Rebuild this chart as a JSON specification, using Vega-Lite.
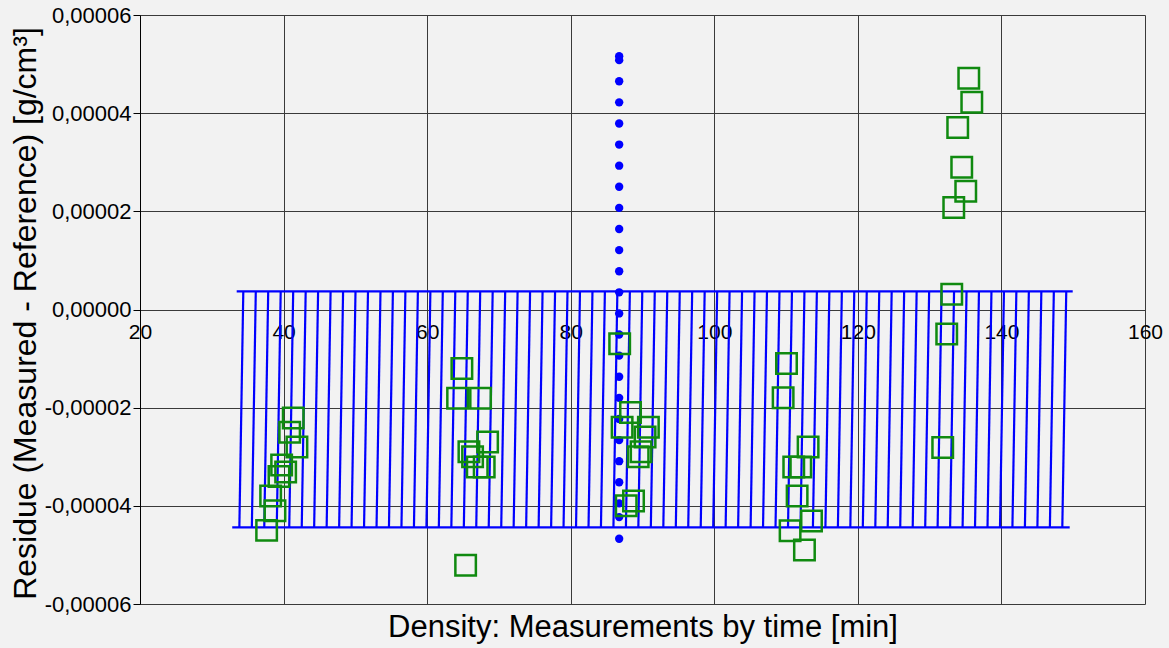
{
  "$schema": "https://vega.github.io/schema/vega-lite/v6.json",
  "autosize": {"type": "none"},
  "width": 1005,
  "height": 589,
  "padding": {"left": 140, "top": 15, "right": 24, "bottom": 44},
  "background": "#f2f2f2",
  "config": {
    "view": {"stroke": null, "fill": "#f2f2f2"},
    "font": "Liberation Sans",
    "locale": {
      "number": {"decimal": ",", "thousands": ".", "grouping": [3], "currency": ["", " €"], "minus": "-"}
    },
    "axis": {
      "labelFont": "Liberation Sans",
      "titleFont": "Liberation Sans",
      "labelColor": "#000000",
      "titleColor": "#000000",
      "gridColor": "#3a3a3a",
      "gridWidth": 1,
      "gridOpacity": 1
    }
  },
  "datasets": {
    "band_limits": [
      {"from": 33.47, "to": 149.93, "level": 0.0000037},
      {"from": 32.85, "to": 149.51, "level": -0.0000444}
    ],
    "band_steps": [
      {"t": 34.39, "t0": 33.84, "hi": 0.0000037, "lo": -0.0000444},
      {"t": 36.13, "t0": 35.58, "hi": 0.0000037, "lo": -0.0000444},
      {"t": 37.86, "t0": 37.31, "hi": 0.0000037, "lo": -0.0000444},
      {"t": 39.60, "t0": 39.05, "hi": 0.0000037, "lo": -0.0000444},
      {"t": 41.34, "t0": 40.79, "hi": 0.0000037, "lo": -0.0000444},
      {"t": 43.08, "t0": 42.53, "hi": 0.0000037, "lo": -0.0000444},
      {"t": 44.81, "t0": 44.26, "hi": 0.0000037, "lo": -0.0000444},
      {"t": 46.55, "t0": 46.00, "hi": 0.0000037, "lo": -0.0000444},
      {"t": 48.29, "t0": 47.74, "hi": 0.0000037, "lo": -0.0000444},
      {"t": 50.02, "t0": 49.47, "hi": 0.0000037, "lo": -0.0000444},
      {"t": 51.76, "t0": 51.21, "hi": 0.0000037, "lo": -0.0000444},
      {"t": 53.50, "t0": 52.95, "hi": 0.0000037, "lo": -0.0000444},
      {"t": 55.23, "t0": 54.68, "hi": 0.0000037, "lo": -0.0000444},
      {"t": 56.97, "t0": 56.42, "hi": 0.0000037, "lo": -0.0000444},
      {"t": 58.71, "t0": 58.16, "hi": 0.0000037, "lo": -0.0000444},
      {"t": 60.45, "t0": 59.90, "hi": 0.0000037, "lo": -0.0000444},
      {"t": 62.18, "t0": 61.63, "hi": 0.0000037, "lo": -0.0000444},
      {"t": 63.92, "t0": 63.37, "hi": 0.0000037, "lo": -0.0000444},
      {"t": 65.66, "t0": 65.11, "hi": 0.0000037, "lo": -0.0000444},
      {"t": 67.39, "t0": 66.84, "hi": 0.0000037, "lo": -0.0000444},
      {"t": 69.13, "t0": 68.58, "hi": 0.0000037, "lo": -0.0000444},
      {"t": 70.87, "t0": 70.32, "hi": 0.0000037, "lo": -0.0000444},
      {"t": 72.60, "t0": 72.05, "hi": 0.0000037, "lo": -0.0000444},
      {"t": 74.34, "t0": 73.79, "hi": 0.0000037, "lo": -0.0000444},
      {"t": 76.08, "t0": 75.53, "hi": 0.0000037, "lo": -0.0000444},
      {"t": 77.82, "t0": 77.27, "hi": 0.0000037, "lo": -0.0000444},
      {"t": 79.55, "t0": 79.00, "hi": 0.0000037, "lo": -0.0000444},
      {"t": 81.29, "t0": 80.74, "hi": 0.0000037, "lo": -0.0000444},
      {"t": 83.03, "t0": 82.48, "hi": 0.0000037, "lo": -0.0000444},
      {"t": 84.76, "t0": 84.21, "hi": 0.0000037, "lo": -0.0000444},
      {"t": 86.50, "t0": 85.95, "hi": 0.0000037, "lo": -0.0000444},
      {"t": 88.24, "t0": 87.69, "hi": 0.0000037, "lo": -0.0000444},
      {"t": 89.97, "t0": 89.42, "hi": 0.0000037, "lo": -0.0000444},
      {"t": 91.71, "t0": 91.16, "hi": 0.0000037, "lo": -0.0000444},
      {"t": 93.45, "t0": 92.90, "hi": 0.0000037, "lo": -0.0000444},
      {"t": 95.19, "t0": 94.64, "hi": 0.0000037, "lo": -0.0000444},
      {"t": 96.92, "t0": 96.37, "hi": 0.0000037, "lo": -0.0000444},
      {"t": 98.66, "t0": 98.11, "hi": 0.0000037, "lo": -0.0000444},
      {"t": 100.40, "t0": 99.85, "hi": 0.0000037, "lo": -0.0000444},
      {"t": 102.13, "t0": 101.58, "hi": 0.0000037, "lo": -0.0000444},
      {"t": 103.87, "t0": 103.32, "hi": 0.0000037, "lo": -0.0000444},
      {"t": 105.61, "t0": 105.06, "hi": 0.0000037, "lo": -0.0000444},
      {"t": 107.34, "t0": 106.79, "hi": 0.0000037, "lo": -0.0000444},
      {"t": 109.08, "t0": 108.53, "hi": 0.0000037, "lo": -0.0000444},
      {"t": 110.82, "t0": 110.27, "hi": 0.0000037, "lo": -0.0000444},
      {"t": 112.56, "t0": 112.01, "hi": 0.0000037, "lo": -0.0000444},
      {"t": 114.29, "t0": 113.74, "hi": 0.0000037, "lo": -0.0000444},
      {"t": 116.03, "t0": 115.48, "hi": 0.0000037, "lo": -0.0000444},
      {"t": 117.77, "t0": 117.22, "hi": 0.0000037, "lo": -0.0000444},
      {"t": 119.50, "t0": 118.95, "hi": 0.0000037, "lo": -0.0000444},
      {"t": 121.24, "t0": 120.69, "hi": 0.0000037, "lo": -0.0000444},
      {"t": 122.98, "t0": 122.43, "hi": 0.0000037, "lo": -0.0000444},
      {"t": 124.71, "t0": 124.16, "hi": 0.0000037, "lo": -0.0000444},
      {"t": 126.45, "t0": 125.90, "hi": 0.0000037, "lo": -0.0000444},
      {"t": 128.19, "t0": 127.64, "hi": 0.0000037, "lo": -0.0000444},
      {"t": 129.93, "t0": 129.38, "hi": 0.0000037, "lo": -0.0000444},
      {"t": 131.66, "t0": 131.11, "hi": 0.0000037, "lo": -0.0000444},
      {"t": 133.40, "t0": 132.85, "hi": 0.0000037, "lo": -0.0000444},
      {"t": 135.14, "t0": 134.59, "hi": 0.0000037, "lo": -0.0000444},
      {"t": 136.87, "t0": 136.32, "hi": 0.0000037, "lo": -0.0000444},
      {"t": 138.61, "t0": 138.06, "hi": 0.0000037, "lo": -0.0000444},
      {"t": 140.35, "t0": 139.80, "hi": 0.0000037, "lo": -0.0000444},
      {"t": 142.08, "t0": 141.53, "hi": 0.0000037, "lo": -0.0000444},
      {"t": 143.82, "t0": 143.27, "hi": 0.0000037, "lo": -0.0000444},
      {"t": 145.56, "t0": 145.01, "hi": 0.0000037, "lo": -0.0000444},
      {"t": 147.30, "t0": 146.75, "hi": 0.0000037, "lo": -0.0000444},
      {"t": 149.03, "t0": 148.48, "hi": 0.0000037, "lo": -0.0000444}
    ],
    "drift": [
      {"t": 86.75, "residue": 0.0000516},
      {"t": 86.75, "residue": 0.0000508},
      {"t": 86.75, "residue": 0.0000465},
      {"t": 86.75, "residue": 0.0000422},
      {"t": 86.75, "residue": 0.0000379},
      {"t": 86.75, "residue": 0.0000336},
      {"t": 86.75, "residue": 0.0000293},
      {"t": 86.75, "residue": 0.0000250},
      {"t": 86.75, "residue": 0.0000207},
      {"t": 86.75, "residue": 0.0000164},
      {"t": 86.75, "residue": 0.0000121},
      {"t": 86.75, "residue": 0.0000078},
      {"t": 86.75, "residue": 0.0000035},
      {"t": 86.75, "residue": -0.0000008},
      {"t": 86.75, "residue": -0.0000051},
      {"t": 86.75, "residue": -0.0000094},
      {"t": 86.75, "residue": -0.0000137},
      {"t": 86.75, "residue": -0.0000180},
      {"t": 86.75, "residue": -0.0000223},
      {"t": 86.75, "residue": -0.0000266},
      {"t": 86.75, "residue": -0.0000309},
      {"t": 86.75, "residue": -0.0000352},
      {"t": 86.75, "residue": -0.0000395},
      {"t": 86.75, "residue": -0.0000423},
      {"t": 86.75, "residue": -0.0000467}
    ],
    "samples": [
      {"t": 41.35, "residue": -0.0000221},
      {"t": 40.85, "residue": -0.0000250},
      {"t": 41.86, "residue": -0.0000280},
      {"t": 39.73, "residue": -0.0000317},
      {"t": 40.29, "residue": -0.0000331},
      {"t": 39.36, "residue": -0.0000340},
      {"t": 38.20, "residue": -0.0000380},
      {"t": 38.80, "residue": -0.0000410},
      {"t": 37.64, "residue": -0.0000450},
      {"t": 64.84, "residue": -0.0000120},
      {"t": 64.24, "residue": -0.0000181},
      {"t": 67.44, "residue": -0.0000181},
      {"t": 68.42, "residue": -0.0000270},
      {"t": 65.82, "residue": -0.0000290},
      {"t": 66.33, "residue": -0.0000300},
      {"t": 66.98, "residue": -0.0000321},
      {"t": 67.95, "residue": -0.0000321},
      {"t": 65.36, "residue": -0.0000521},
      {"t": 86.82, "residue": -0.0000070},
      {"t": 88.33, "residue": -0.0000210},
      {"t": 87.16, "residue": -0.0000240},
      {"t": 90.82, "residue": -0.0000240},
      {"t": 90.36, "residue": -0.0000260},
      {"t": 89.80, "residue": -0.0000290},
      {"t": 89.40, "residue": -0.0000300},
      {"t": 88.75, "residue": -0.0000390},
      {"t": 87.73, "residue": -0.0000400},
      {"t": 110.06, "residue": -0.0000110},
      {"t": 109.59, "residue": -0.0000180},
      {"t": 113.07, "residue": -0.0000280},
      {"t": 111.07, "residue": -0.0000321},
      {"t": 112.05, "residue": -0.0000321},
      {"t": 111.54, "residue": -0.0000380},
      {"t": 113.54, "residue": -0.0000431},
      {"t": 110.56, "residue": -0.0000451},
      {"t": 112.56, "residue": -0.0000490},
      {"t": 135.45, "residue": 0.0000471},
      {"t": 135.87, "residue": 0.0000422},
      {"t": 133.91, "residue": 0.0000371},
      {"t": 134.47, "residue": 0.0000290},
      {"t": 135.03, "residue": 0.0000241},
      {"t": 133.36, "residue": 0.0000208},
      {"t": 133.08, "residue": 0.0000031},
      {"t": 132.38, "residue": -0.0000050},
      {"t": 131.82, "residue": -0.0000281}
    ]
  },
  "layer": [
    {
      "data": {"name": "band_limits"},
      "mark": {"type": "rule", "color": "#0000ff", "strokeWidth": 2.2},
      "encoding": {
        "x": {
          "field": "from",
          "type": "quantitative",
          "scale": {"domain": [20, 160], "nice": false, "zero": false},
          "axis": {
            "title": "Density: Measurements by time [min]",
            "titleFontSize": 31,
            "titleFontWeight": "normal",
            "titleBaseline": "middle",
            "titleY": 318,
            "values": [20, 40, 60, 80, 100, 120, 140, 160],
            "offset": -294.7,
            "domain": false,
            "ticks": false,
            "labelFontSize": 21,
            "labelPadding": 12,
            "labelFlush": false,
            "labelOverlap": false,
            "grid": true
          }
        },
        "x2": {"field": "to"},
        "y": {
          "field": "level",
          "type": "quantitative",
          "scale": {"domain": [-0.00006, 0.00006], "nice": false, "zero": false},
          "axis": {
            "title": "Residue (Measured - Reference) [g/cm³]",
            "titleFontSize": 32,
            "titleFontWeight": "normal",
            "titleBaseline": "middle",
            "titleX": -115,
            "titleY": 298,
            "values": [-0.00006, -0.00004, -0.00002, 0, 0.00002, 0.00004, 0.00006],
            "format": ".5f",
            "domain": true,
            "domainColor": "#000000",
            "ticks": true,
            "tickSize": 7,
            "tickColor": "#000000",
            "labelFontSize": 22,
            "labelPadding": 2,
            "labelFlush": false,
            "labelOverlap": false,
            "grid": true
          }
        }
      }
    },
    {
      "data": {"name": "band_steps"},
      "mark": {"type": "rule", "color": "#0000ff", "strokeWidth": 2.2},
      "encoding": {
        "x": {"field": "t", "type": "quantitative"},
        "x2": {"field": "t0"},
        "y": {"field": "hi", "type": "quantitative"},
        "y2": {"field": "lo"}
      }
    },
    {
      "data": {"name": "drift"},
      "mark": {"type": "circle", "color": "#0000ff", "opacity": 1, "size": 70},
      "encoding": {
        "x": {"field": "t", "type": "quantitative"},
        "y": {"field": "residue", "type": "quantitative"}
      }
    },
    {
      "data": {"name": "samples"},
      "mark": {"type": "square", "filled": false, "color": "#108a10", "opacity": 1, "strokeWidth": 2.5, "size": 420},
      "encoding": {
        "x": {"field": "t", "type": "quantitative"},
        "y": {"field": "residue", "type": "quantitative"}
      }
    }
  ]
}
